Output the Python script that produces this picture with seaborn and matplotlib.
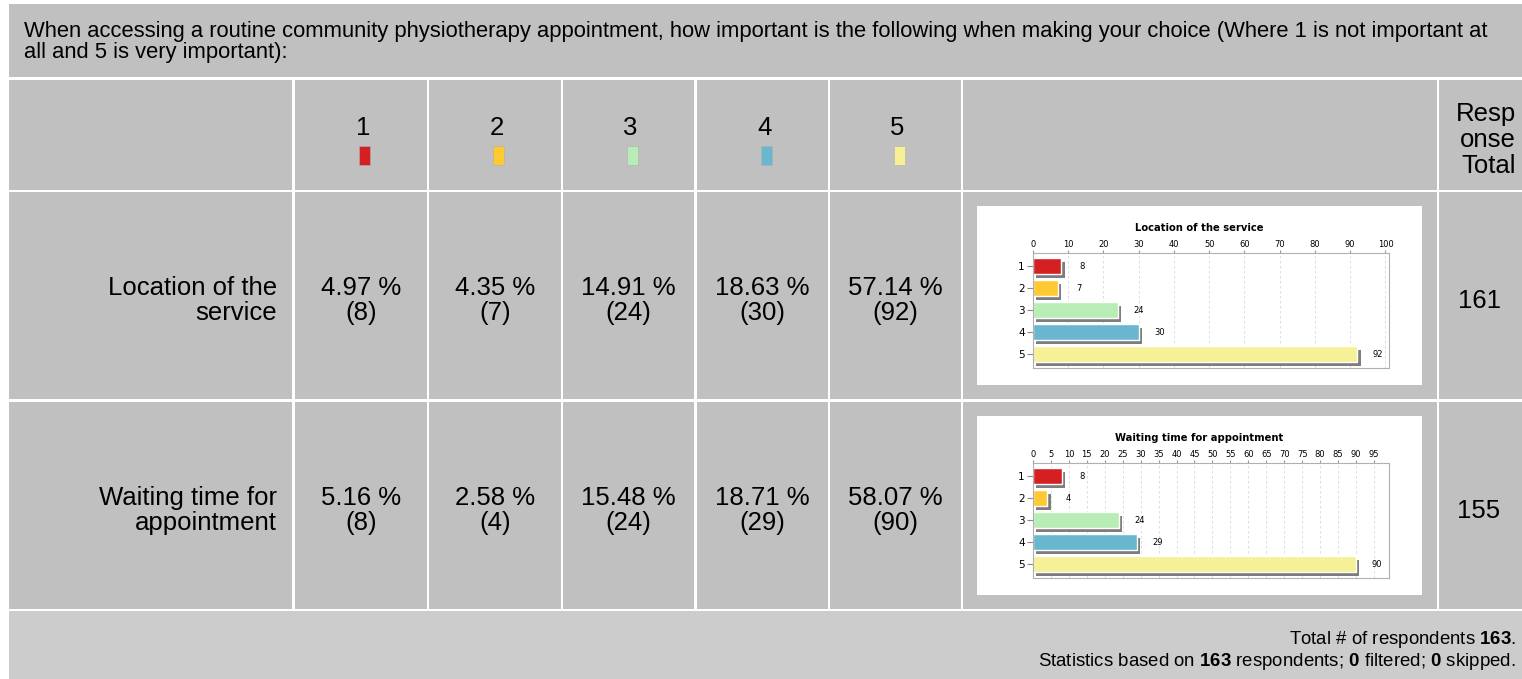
import numpy as np
import pandas as pd
import matplotlib
matplotlib.use("Agg")
import matplotlib.pyplot as plt
import matplotlib.patheffects as pe
from matplotlib.patches import Rectangle
import seaborn as sns

question = ("When accessing a routine community physiotherapy appointment, how important is the "
            "following when making your choice (Where 1 is not important at\nall and 5 is very important):")
scale = ["1", "2", "3", "4", "5"]
scale_colors = ["#d42020", "#ffc933", "#b8edb6", "#69b6cf", "#f6f197"]
row_labels = ["Location of the\nservice", "Waiting time for\nappointment"]
chart_titles = ["Location of the service", "Waiting time for appointment"]
location_pct = [4.97, 4.35, 14.91, 18.63, 57.14]
location_n = [8, 7, 24, 30, 92]
waiting_pct = [5.16, 2.58, 15.48, 18.71, 58.07]
waiting_n = [8, 4, 24, 29, 90]
response_total = [161, 155]
total_respondents = 163
n_filtered = 0
n_skipped = 0

sns.set_style("white")
plt.rcParams["font.family"] = ["Liberation Sans", "DejaVu Sans"]
plt.rcParams["text.color"] = "black"
plt.rcParams["xtick.color"] = "black"
plt.rcParams["ytick.color"] = "black"
plt.rcParams["mathtext.fontset"] = "custom"
plt.rcParams["mathtext.rm"] = "Liberation Sans"
plt.rcParams["mathtext.bf"] = "Liberation Sans:bold"

W, H = 1522, 679
fig = plt.figure(figsize=(W / 100, H / 100), dpi=100)
bg = fig.add_axes([0, 0, 1, 1])
bg.set_xlim(0, W)
bg.set_ylim(H, 0)
bg.axis("off")

GRAY = "#c0c0c0"


def cell(x0, x1, y0, y1, color=GRAY):
    bg.add_patch(Rectangle((x0, y0), x1 - x0, y1 - y0, facecolor=color, edgecolor="none"))


cols = [(9, 292), (295, 427), (429, 561), (563, 694), (697, 828), (830, 961), (963, 1437), (1439, 1522)]
rows = [(192, 399), (402, 609)]

# question
cell(9, W, 4, 77)
bg.text(24, 42, question, fontsize=15.8, ha="left", va="center", linespacing=1.0)

# header row
for x0, x1 in cols:
    cell(x0, x1, 80, 190)
for (x0, x1), s, c in zip(cols[1:6], scale, scale_colors):
    xc = (x0 + x1) / 2
    bg.text(xc + 2, 128, s, fontsize=18.5, ha="center", va="center")
    bg.add_patch(Rectangle((xc - 2, 146), 11, 19, facecolor=c, edgecolor="#b0b0b0", lw=0.4))
bg.text(1516, 140, "Resp\nonse\nTotal", fontsize=18.5, ha="right", va="center", linespacing=1.08)


def mini_chart(ax, counts, xmax, step):
    df = pd.DataFrame({"score": scale, "count": counts})
    sns.barplot(data=df, x="count", y="score", hue="score", palette=scale_colors,
                order=scale, hue_order=scale, legend=False, width=0.73,
                orient="h", saturation=1, ax=ax)
    for p in ax.patches:
        p.set_path_effects([pe.SimplePatchShadow(offset=(2.4, -2.4), shadow_rgbFace="#7d7d7d", alpha=1.0),
                            pe.Normal()])
    for i, v in enumerate(counts):
        ax.annotate(str(v), xy=(v, i), xytext=(15, 0), textcoords="offset points",
                    ha="center", va="center", fontsize=6, family="DejaVu Sans")
    ax.set_xlim(0, xmax)
    ax.set_ylim(4.64, -0.62)
    ax.set_xticks(np.arange(0, xmax, step))
    ax.xaxis.tick_top()
    ax.grid(axis="x", color="#d8d8d8", ls=(0, (3, 3)), lw=0.6)
    ax.set_axisbelow(True)
    ax.set_xlabel("")
    ax.set_ylabel("")
    ax.tick_params(axis="x", top=True, labelsize=6, length=2, pad=1, color="#999999")
    ax.tick_params(axis="y", left=True, labelsize=7.5, length=4, pad=2, color="#888888")
    for lbl in ax.get_xticklabels() + ax.get_yticklabels():
        lbl.set_fontfamily("DejaVu Sans")
    for s in ax.spines.values():
        s.set_visible(True)
        s.set_color("#b0b0b0")
        s.set_linewidth(0.8)


data_rows = [(location_pct, location_n, 101, 10), (waiting_pct, waiting_n, 99.2, 5)]
for r, (y0, y1) in enumerate(rows):
    pct, n, xmax, step = data_rows[r]
    yc = (y0 + y1) / 2
    for x0, x1 in cols:
        cell(x0, x1, y0, y1)
    bg.text(277, yc + 5, row_labels[r], fontsize=18.5, ha="right", va="center", linespacing=1.1)
    for (x0, x1), p, k in zip(cols[1:6], pct, n):
        bg.text((x0 + x1) / 2, yc + 5, f"{p:.2f} %\n({k})", fontsize=18.5, ha="center", va="center",
                linespacing=1.1)
    bg.text(1479, yc + 5, str(response_total[r]), fontsize=18.5, ha="center", va="center")
    # white frame holding the little bar chart
    bg.add_patch(Rectangle((977, y0 + 14), 445, 179, facecolor="white", edgecolor="none"))
    bg.text(1199, y0 + 36, chart_titles[r], fontsize=7.2, fontweight="bold", family="DejaVu Sans",
            ha="center", va="center")
    top, bottom = y0 + 60.7, y0 + 176.3
    ax = fig.add_axes([1033 / W, 1 - bottom / H, 356 / W, (bottom - top) / H])
    mini_chart(ax, n, xmax, step)

# footer
cell(9, W, 611, H, "#cccccc")
bg.text(1516, 640, rf"Total # of respondents $\mathbf{{{total_respondents}}}$.",
        fontsize=13.4, ha="right", va="center")
bg.text(1516, 661, rf"Statistics based on $\mathbf{{{total_respondents}}}$ respondents; "
        rf"$\mathbf{{{n_filtered}}}$ filtered; $\mathbf{{{n_skipped}}}$ skipped.",
        fontsize=13.4, ha="right", va="center")

fig.savefig("out.png", dpi=100)
